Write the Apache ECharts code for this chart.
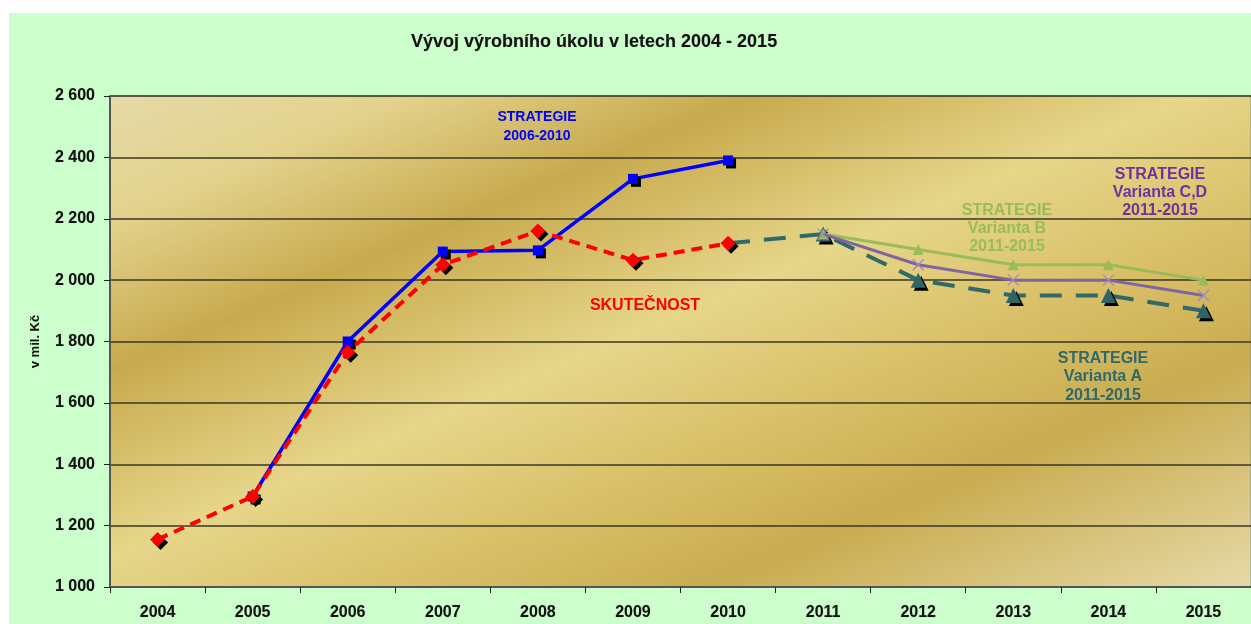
<!DOCTYPE html>
<html>
<head>
<meta charset="utf-8">
<script src="https://cdn.jsdelivr.net/npm/echarts@6/dist/echarts.min.js"></script>
<style>
html,body{margin:0;padding:0;background:#ffffff;width:1251px;height:624px;overflow:hidden;}
#c{position:absolute;left:9px;top:13px;width:1242px;height:611px;background:#ccffcc;}
</style>
</head>
<body>
<div id="c"></div>
<script>
const years = ['2004','2005','2006','2007','2008','2009','2010','2011','2012','2013','2014','2015'];
const skutecnost = [1155, 1295, 1765, 2050, 2160, 2065, 2120, null, null, null, null, null];
const strategie0610 = [null, 1295, 1800, 2093, 2097, 2330, 2390, null, null, null, null, null];
const variantaA = [null, null, null, null, null, null, 2120, 2150, 2000, 1950, 1950, 1900];
const variantaB = [null, null, null, null, null, null, null, 2150, 2100, 2050, 2050, 2000];
const variantaCD = [null, null, null, null, null, null, null, 2150, 2050, 2000, 2000, 1950];
const yTicks = {min: 1000, max: 2600, step: 200};

const FONT = '"Liberation Sans", Arial, sans-serif';
const chart = echarts.init(document.getElementById('c'), null, {renderer: 'canvas'});

const shadow = {shadowColor: '#000', shadowBlur: 0, shadowOffsetX: 3, shadowOffsetY: 3};

function noFirstMarker(arr) {
  // the connecting point at 2010 carries no marker
  return arr.map((v, i) => (i === 6 && v != null) ? {value: v, symbol: 'none'} : v);
}

function label(text, color, size, x, y, lh) {
  return {
    type: 'text', x: x, y: y, z: 100,
    style: {
      text: text, fill: color, font: 'bold ' + size + 'px ' + FONT,
      textAlign: 'center', textVerticalAlign: 'top', lineHeight: lh
    }
  };
}

chart.setOption({
  animation: false,
  backgroundColor: '#ccffcc',
  title: {
    text: 'Vývoj výrobního úkolu v letech 2004 - 2015',
    left: 397, top: 15,
    textStyle: {fontFamily: FONT, fontWeight: 'bold', fontSize: 18, color: '#111',
      textShadowColor: 'rgba(0,0,0,0.25)', textShadowBlur: 1}
  },
  grid: {
    left: 101, right: -1, top: 83, bottom: 37,
    show: true,
    borderColor: '#8a8a8a', borderWidth: 1,
    backgroundColor: {
      type: 'linear', x: 0, y: 0, x2: 0.311, y2: 1.689,
      colorStops: [
        {offset: 0, color: '#e5dba8'},
        {offset: 0.13, color: '#e3d28c'},
        {offset: 0.28, color: '#c8aa4e'},
        {offset: 0.47, color: '#e6d68a'},
        {offset: 0.62, color: '#d9c068'},
        {offset: 0.76, color: '#c9ac50'},
        {offset: 1, color: '#e6daa8'}
      ]
    }
  },
  xAxis: {
    type: 'category', data: years, boundaryGap: true,
    axisLine: {show: true, lineStyle: {color: '#555', width: 2}},
    axisTick: {show: true, length: 6, lineStyle: {color: '#222', width: 1}},
    axisLabel: {margin: 18, fontFamily: FONT, fontWeight: 'bold', fontSize: 16, color: '#111',
      textShadowColor: 'rgba(0,0,0,0.25)', textShadowBlur: 1},
    splitLine: {show: false}
  },
  yAxis: {
    type: 'value', min: yTicks.min, max: yTicks.max, interval: yTicks.step,
    name: 'v mil. Kč', nameLocation: 'middle', nameGap: 68, nameRotate: 90,
    nameTextStyle: {fontFamily: FONT, fontWeight: 'bold', fontSize: 13, color: '#111'},
    axisLine: {show: true, lineStyle: {color: '#555', width: 2}},
    axisTick: {show: true, length: 6, lineStyle: {color: '#222', width: 1}},
    axisLabel: {
      margin: 15, fontFamily: FONT, fontWeight: 'bold', fontSize: 16, color: '#111',
      textShadowColor: 'rgba(0,0,0,0.25)', textShadowBlur: 1,
      formatter: v => String(v).replace(/\B(?=(\d{3})+(?!\d))/g, ' ')
    },
    splitLine: {show: true, lineStyle: {color: '#3b3624', width: 1.5}}
  },
  series: [
    {
      name: 'Varianta A', type: 'line', data: noFirstMarker(variantaA),
      symbol: 'triangle', symbolSize: 15,
      lineStyle: {color: '#31696b', width: 4, type: [22, 14]},
      itemStyle: Object.assign({color: '#2f6565'}, shadow), z: 2
    },
    {
      name: 'Varianta B', type: 'line', data: variantaB,
      symbol: 'triangle', symbolSize: 11,
      lineStyle: {color: '#9bbb59', width: 3},
      itemStyle: {color: '#9bbb59'}, z: 3
    },
    {
      name: 'Varianta C,D', type: 'line', data: variantaCD,
      symbol: 'path://M0,0L10,10M10,0L0,10', symbolSize: 11,
      lineStyle: {color: '#8064a2', width: 3},
      itemStyle: {color: '#8f7ab0', borderColor: '#9c88bb', borderWidth: 1.2}, z: 4
    },
    {
      name: 'Strategie 2006-2010', type: 'line', data: strategie0610,
      symbol: 'rect', symbolSize: 10,
      lineStyle: {color: '#0000ff', width: 3.5},
      itemStyle: Object.assign({color: '#0000ff'}, shadow), z: 5
    },
    {
      name: 'Skutečnost', type: 'line', data: skutecnost,
      symbol: 'diamond', symbolSize: 15,
      lineStyle: {color: '#ff0000', width: 4, type: [11, 7]},
      itemStyle: Object.assign({color: '#ff0000'}, shadow), z: 6
    }
  ],
  graphic: [
    label('STRATEGIE\n2006-2010', '#0000ff', 14, 528, 95, 19),
    label('SKUTEČNOST', '#ff0000', 16, 636, 283, 19),
    label('STRATEGIE\nVarianta B\n2011-2015', '#9bbb59', 16, 998, 189, 18),
    label('STRATEGIE\nVarianta C,D\n2011-2015', '#7030a0', 16, 1151, 153, 18),
    label('STRATEGIE\nVarianta A\n2011-2015', '#31696b', 16, 1094, 336, 18.5)
  ]
});
</script>
</body>
</html>
